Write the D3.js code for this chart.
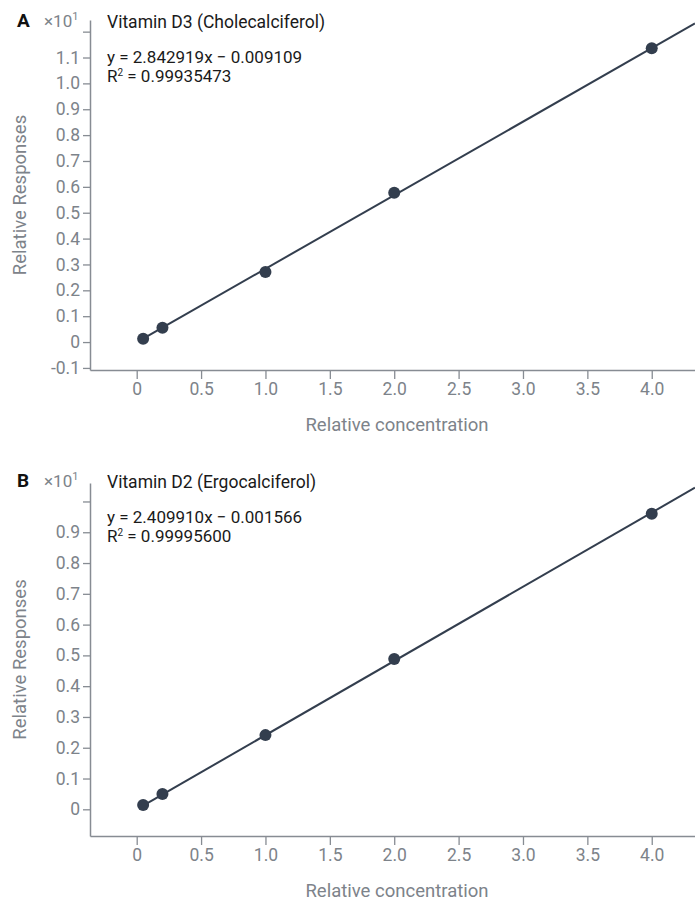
<!DOCTYPE html>
<html>
<head>
<meta charset="utf-8">
<script src="https://cdn.jsdelivr.net/npm/d3@7"></script>
<style>
  body { margin: 0; background: #fff; }
  text { font-family: Roboto, "Noto Sans", sans-serif; }
</style>
</head>
<body>
<div id="chart"></div>
<script>
const concentrations = [0.05, 0.2, 1, 2, 4];
const responsesD3 = [0.13, 0.55, 2.71, 5.77, 11.36];
const responsesD2 = [0.14, 0.50, 2.41, 4.88, 9.60];
const xTicks = [0, 0.5, 1.0, 1.5, 2.0, 2.5, 3.0, 3.5, 4.0];
const yTicksD3 = [-1, 0, 1, 2, 3, 4, 5, 6, 7, 8, 9, 10, 11, 12];
const yTicksD2 = [0, 1, 2, 3, 4, 5, 6, 7, 8, 9, 10];
const fitD3 = {slope: 2.842919, intercept: -0.009109};
const fitD2 = {slope: 2.409910, intercept: -0.001566};

const width = 695, height = 903;
const axisGrey = "#878c93", labelGrey = "#7d838a", markColor = "#333e4e";

const svg = d3.select("#chart")
  .append("svg")
    .attr("width", width)
    .attr("height", height);

function drawPanel(p) {
  const g = svg.append("g").attr("transform", `translate(0, ${p.offset})`);

  const x = d3.scaleLinear()
    .domain([-0.3627, 4.336])
    .range([90, 695]);

  const y = d3.scaleLinear()
    .domain(p.yDomain)
    .range([p.bottom, p.top]);

  // y axis
  const yAxis = g.append("g")
    .attr("transform", "translate(90,0)")
    .call(d3.axisLeft(y)
      .tickValues(p.yTicks)
      .tickSize(7)
      .tickSizeOuter(0)
      .tickPadding(3)
      .tickFormat(d => d === p.yTicks[p.yTicks.length - 1] ? "" : (d === 0 ? "0" : (d / 10).toFixed(1))));
  yAxis.select(".domain").attr("stroke", axisGrey).attr("stroke-width", 1.5);
  yAxis.selectAll(".tick line").attr("stroke", axisGrey).attr("stroke-width", 1.3);
  yAxis.selectAll(".tick text")
    .attr("fill", labelGrey)
    .style("font-size", "17.5px");

  // x axis
  const xAxis = g.append("g")
    .attr("transform", `translate(0,${p.bottom})`)
    .call(d3.axisBottom(x)
      .tickValues(xTicks)
      .tickSize(9)
      .tickSizeOuter(0)
      .tickPadding(4)
      .tickFormat(d => d === 0 ? "0" : d.toFixed(1)));
  xAxis.select(".domain").attr("stroke", axisGrey).attr("stroke-width", 1.5);
  xAxis.selectAll(".tick line").attr("stroke", axisGrey).attr("stroke-width", 1.3);
  xAxis.selectAll(".tick text")
    .attr("fill", labelGrey)
    .style("font-size", "17.5px");

  // regression line
  const x0 = concentrations[0], x1 = x.domain()[1];
  g.append("line")
    .attr("x1", x(x0))
    .attr("y1", y(p.fit.slope * x0 + p.fit.intercept))
    .attr("x2", x(x1))
    .attr("y2", y(p.fit.slope * x1 + p.fit.intercept))
    .attr("stroke", markColor)
    .attr("stroke-width", 2);

  // points
  g.append("g")
    .selectAll("circle")
    .data(concentrations.map((c, i) => [c, p.values[i]]))
    .enter()
    .append("circle")
      .attr("cx", d => x(d[0]))
      .attr("cy", d => y(d[1]))
      .attr("r", 6)
      .attr("fill", markColor);

  // panel letter
  g.append("text")
    .attr("x", 17)
    .attr("y", 27)
    .text(p.letter)
    .style("font-size", "19px")
    .style("font-weight", "bold")
    .attr("fill", "#111");

  // x10^1 multiplier
  const mult = g.append("text")
    .attr("x", 44)
    .attr("y", 27)
    .attr("fill", labelGrey)
    .style("font-size", "17px");
  mult.append("tspan").text("\u00d710");
  mult.append("tspan").attr("dy", -7).style("font-size", "11px").text("1");

  // title and equation
  g.append("text")
    .attr("x", 107)
    .attr("y", 28)
    .text(p.title)
    .style("font-size", "17.5px")
    .attr("fill", "#1a1a1a");
  g.append("text")
    .attr("x", 107)
    .attr("y", 63)
    .text(`y = ${p.fit.slope.toFixed(6)}x \u2212 ${Math.abs(p.fit.intercept).toFixed(6)}`)
    .style("font-size", "17px")
    .attr("fill", "#1a1a1a");
  const r2 = g.append("text")
    .attr("x", 107)
    .attr("y", 82)
    .style("font-size", "17px")
    .attr("fill", "#1a1a1a");
  r2.append("tspan").text("R");
  r2.append("tspan").attr("dy", -6).style("font-size", "10px").text("2");
  r2.append("tspan").attr("dy", 6).text(" = " + p.r2);

  // axis titles
  g.append("text")
    .attr("text-anchor", "middle")
    .attr("x", 397)
    .attr("y", p.bottom + 61)
    .text("Relative concentration")
    .style("font-size", "18.5px")
    .attr("fill", labelGrey);

  g.append("text")
    .attr("text-anchor", "middle")
    .attr("transform", `translate(26,${(p.top + p.bottom) / 2}) rotate(-90)`)
    .text("Relative Responses")
    .style("font-size", "18.5px")
    .attr("fill", labelGrey);
}

drawPanel({
  offset: 0, letter: "A", title: "Vitamin D3 (Cholecalciferol)",
  values: responsesD3, fit: fitD3, r2: "0.99935473",
  yTicks: yTicksD3, yDomain: [-1.08, 12.45], top: 20, bottom: 370
});

drawPanel({
  offset: 460, letter: "B", title: "Vitamin D2 (Ergocalciferol)",
  values: responsesD2, fit: fitD2, r2: "0.99995600",
  yTicks: yTicksD2, yDomain: [-0.867, 10.6], top: 23, bottom: 376
});
</script>
</body>
</html>
